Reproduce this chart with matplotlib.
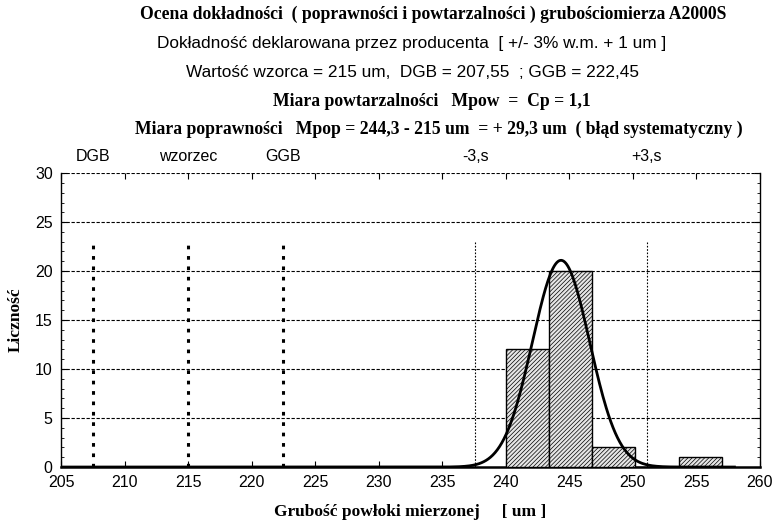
import numpy as np
import matplotlib
matplotlib.use('Agg')
from matplotlib import pyplot as plt

# dane histogramu
bin_edges = [240.0, 243.4, 246.8, 250.2, 253.6, 257.0]
counts = [12, 20, 2, 0, 1]

mean = 244.35
sigma = 2.25
n_total = 35

dgb, wzorzec, ggb = 207.55, 215.0, 222.45
limit_lines = [dgb, wzorzec, ggb]
limit_labels = ['DGB', 'wzorzec', 'GGB']
sigma_lines = [mean - 3 * sigma, mean + 3 * sigma]
sigma_labels = ['-3,s', '+3,s']

x_ticks = [205, 210, 215, 220, 225, 230, 235, 240, 245, 250, 255, 260]
y_ticks = [0, 5, 10, 15, 20, 25, 30]

title_lines = [
    ('Ocena dokładności  ( poprawności i powtarzalności ) grubościomierza A2000S', 'serif', 'bold', 0.561, 0.973),
    ('Dokładność deklarowana przez producenta  [ +/- 3% w.m. + 1 um ]', 'sans', 'normal', 0.533, 0.916),
    ('Wartość wzorca = 215 um,  DGB = 207,55  ; GGB = 222,45', 'sans', 'normal', 0.534, 0.862),
    ('Miara powtarzalności   Mpow  =  Cp = 1,1', 'serif', 'bold', 0.559, 0.806),
    ('Miara poprawności   Mpop = 244,3 - 215 um  = + 29,3 um  ( błąd systematyczny )', 'serif', 'bold', 0.568, 0.753),
]

serif = 'Liberation Serif'
sans = 'Liberation Sans'

plt.rcParams['hatch.color'] = '#a8a8a8'
plt.rcParams['hatch.linewidth'] = 0.5

fig = plt.figure(figsize=(7.73, 5.23), dpi=100)
ax = fig.add_axes([0.079, 0.107, 0.904, 0.562])

# słupki histogramu
widths = np.diff(bin_edges)
ax.bar(bin_edges[:-1], counts, width=widths, align='edge',
       facecolor='#e6e6e6', edgecolor='black', linewidth=1.0,
       hatch='////////', zorder=3)

# krzywa normalna
bw = bin_edges[1] - bin_edges[0]
xs = np.linspace(205, 258, 600)
ys = n_total * bw / (sigma * np.sqrt(2 * np.pi)) * np.exp(-0.5 * ((xs - mean) / sigma) ** 2)
ax.plot(xs, ys, color='black', linewidth=2.0, zorder=4)

# linie granic
for v in limit_lines:
    ax.plot([v, v], [0, 23], color='black', linewidth=2.2, linestyle=(0, (1.2, 2.2)), zorder=2)
for v in sigma_lines:
    ax.plot([v, v], [0, 23], color='black', linewidth=0.8, linestyle=(0, (1.5, 1.5)), zorder=2)

# siatka pozioma
for yv in y_ticks[1:]:
    ax.axhline(yv, color='black', linewidth=0.8, linestyle=(0, (3, 1.5)), zorder=1)

ax.set_xlim(205, 260)
ax.set_ylim(0, 30)
ax.set_xticks(x_ticks)
ax.set_yticks(y_ticks)
ax.set_yticks(np.arange(0, 31, 1), minor=True)
ax.tick_params(axis='both', which='major', direction='in', length=4, labelsize=11.5,
               top=True, right=True, pad=6)
ax.tick_params(axis='y', which='minor', direction='in', length=2.5, left=True, right=True)
for lab in ax.get_xticklabels() + ax.get_yticklabels():
    lab.set_family(sans)

ax.spines['top'].set_visible(False)
for s in ['left', 'right', 'bottom']:
    ax.spines[s].set_linewidth(1.0)
ax.spines['bottom'].set_linewidth(1.8)

ax.set_xlabel('Grubość powłoki mierzonej     [ um ]', family=serif, fontweight='bold',
              fontsize=12.5, labelpad=10)
ax.set_ylabel('Liczność', family=serif, fontweight='bold', fontsize=12.5, labelpad=8)

# etykiety nad wykresem
for v, t in zip(limit_lines, limit_labels):
    ax.text(v, 30.9, t, ha='center', va='bottom', family=sans, fontsize=11.5)
for v, t in zip(sigma_lines, sigma_labels):
    ax.text(v, 30.9, t, ha='center', va='bottom', family=sans, fontsize=11.5)

for text, fam, weight, x, y in title_lines:
    fam_name = serif if fam == 'serif' else sans
    size = 12.7 if fam == 'serif' else 12.4
    fig.text(x, y, text, ha='center', va='center', family=fam_name,
             fontweight=weight, fontsize=size)

fig.savefig('out.png', dpi=100)
